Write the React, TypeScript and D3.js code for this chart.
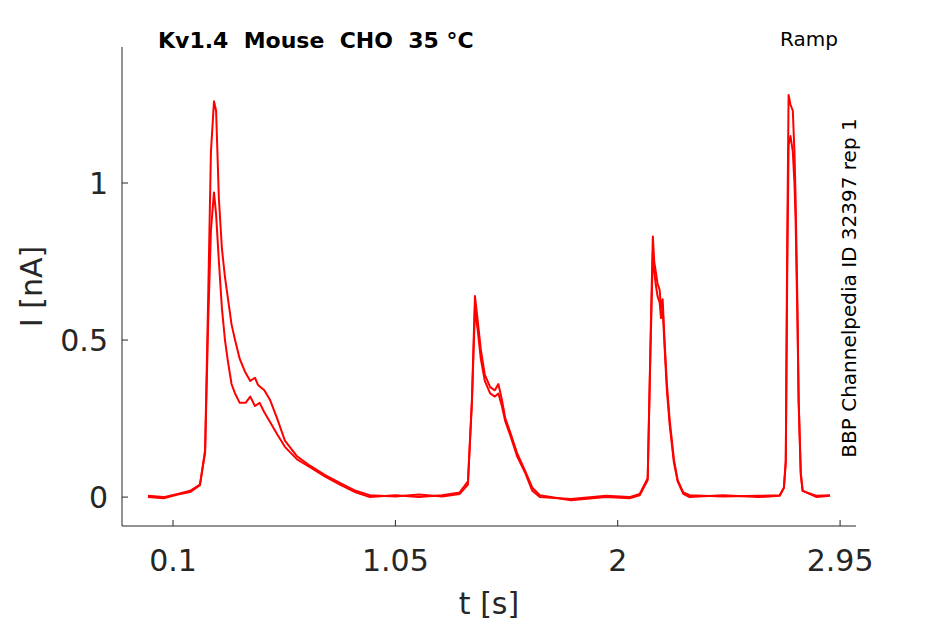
import React from 'react';
import * as d3 from 'd3';

const xTicks = [0.1, 1.05, 2, 2.95];
const yTicks = [0, 0.5, 1];

// trace 1 (higher first peak)
const traceA: [number, number][] = [
  [-0.007, 0], [0.06, -0.004], [0.12, 0.008], [0.173, 0.016], [0.215, 0.038], [0.237, 0.15], [0.25, 0.63],
  [0.262, 1.1], [0.275, 1.26], [0.284, 1.23], [0.296, 0.95], [0.309, 0.79], [0.322, 0.7], [0.335, 0.63],
  [0.35, 0.55], [0.365, 0.5], [0.385, 0.44], [0.407, 0.4], [0.43, 0.37], [0.45, 0.38], [0.463, 0.357],
  [0.49, 0.34], [0.514, 0.31], [0.545, 0.25], [0.578, 0.18], [0.63, 0.13], [0.685, 0.1], [0.75, 0.07],
  [0.813, 0.045], [0.88, 0.02], [0.941, 0.006], [1.05, 0.002], [1.15, 0.008], [1.25, 0.002], [1.325, 0.01],
  [1.36, 0.04], [1.377, 0.31], [1.39, 0.64], [1.402, 0.56], [1.415, 0.47], [1.432, 0.39], [1.455, 0.35],
  [1.475, 0.34], [1.49, 0.36], [1.505, 0.31], [1.52, 0.25], [1.539, 0.21], [1.57, 0.14], [1.603, 0.086],
  [1.635, 0.03], [1.667, 0.006], [1.8, -0.01], [1.95, 0.0], [2.05, -0.004], [2.094, 0.006], [2.128, 0.054],
  [2.141, 0.53], [2.15, 0.83], [2.156, 0.75], [2.162, 0.72], [2.17, 0.68], [2.179, 0.66], [2.185, 0.6],
  [2.192, 0.63], [2.2, 0.5], [2.21, 0.36], [2.222, 0.245], [2.24, 0.12], [2.256, 0.054], [2.28, 0.015],
  [2.307, 0.006], [2.45, 0.002], [2.6, 0.004], [2.692, 0.006], [2.71, 0.03], [2.718, 0.118], [2.724, 0.8],
  [2.73, 1.28], [2.738, 1.25], [2.748, 1.23], [2.755, 1.1], [2.76, 0.95], [2.768, 0.6], [2.773, 0.31],
  [2.782, 0.08], [2.79, 0.02], [2.85, 0.004], [2.907, 0.006],
];

// trace 2 (lower first peak)
const traceB: [number, number][] = [
  [-0.007, 0.004], [0.06, 0.0], [0.12, 0.01], [0.173, 0.02], [0.215, 0.04], [0.237, 0.14], [0.25, 0.55],
  [0.262, 0.85], [0.275, 0.97], [0.284, 0.9], [0.296, 0.75], [0.309, 0.6], [0.322, 0.5], [0.335, 0.43],
  [0.35, 0.36], [0.365, 0.33], [0.385, 0.3], [0.41, 0.3], [0.43, 0.32], [0.45, 0.29], [0.47, 0.3],
  [0.49, 0.27], [0.514, 0.24], [0.545, 0.2], [0.578, 0.16], [0.63, 0.12], [0.685, 0.095], [0.75, 0.065],
  [0.813, 0.04], [0.88, 0.015], [0.941, 0.0], [1.05, 0.006], [1.15, 0.0], [1.25, 0.006], [1.325, 0.015],
  [1.36, 0.05], [1.377, 0.3], [1.39, 0.6], [1.402, 0.53], [1.415, 0.44], [1.432, 0.37], [1.455, 0.33],
  [1.475, 0.32], [1.49, 0.33], [1.505, 0.29], [1.52, 0.24], [1.539, 0.2], [1.57, 0.13], [1.603, 0.08],
  [1.635, 0.02], [1.667, 0.0], [1.8, -0.006], [1.95, 0.004], [2.05, 0.0], [2.094, 0.01], [2.128, 0.06],
  [2.141, 0.5], [2.15, 0.78], [2.156, 0.72], [2.162, 0.68], [2.17, 0.64], [2.179, 0.62], [2.185, 0.57],
  [2.192, 0.6], [2.2, 0.48], [2.21, 0.34], [2.222, 0.23], [2.24, 0.11], [2.256, 0.05], [2.28, 0.01],
  [2.307, 0.0], [2.45, 0.006], [2.6, 0.0], [2.692, 0.004], [2.71, 0.03], [2.718, 0.11], [2.724, 0.7],
  [2.73, 1.12], [2.738, 1.15], [2.748, 1.1], [2.755, 1.0], [2.76, 0.88], [2.768, 0.55], [2.773, 0.3],
  [2.782, 0.07], [2.79, 0.02], [2.85, 0.0], [2.907, 0.004],
];

const W = 945, H = 624;
const L = 122, R = 856, T = 47, B = 526;

export default function App() {
  const x = d3.scaleLinear().domain([-0.118, 3.018]).range([L, R]);
  const y = d3.scaleLinear().domain([-0.092, 1.433]).range([B, T]);
  const line = d3.line<[number, number]>().x(d => x(d[0])).y(d => y(d[1]));
  const txt = '#262626';
  return (
    <svg width={W} height={H} style={{ position: 'absolute', left: 0, top: 0, fontFamily: 'DejaVu Sans' }}>
      <rect width={W} height={H} fill="#fff" />
      {[traceB, traceA].map((d, i) => (
        <path key={i} d={line(d) || ''} fill="none" stroke="#ff0000" strokeWidth={2} strokeLinejoin="round" />
      ))}
      <line x1={L} x2={L} y1={T} y2={B} stroke={txt} strokeWidth={1} />
      <line x1={L} x2={R} y1={B} y2={B} stroke={txt} strokeWidth={1} />
      {xTicks.map(t => (
        <g key={t}>
          <line x1={x(t)} x2={x(t)} y1={B} y2={B - 6} stroke={txt} />
          <text x={x(t)} y={B + 45} textAnchor="middle" fontSize={30} fill={txt}>{t}</text>
        </g>
      ))}
      {yTicks.map(t => (
        <g key={t}>
          <line x1={L} x2={L + 6} y1={y(t)} y2={y(t)} stroke={txt} />
          <text x={L - 14} y={y(t) + 11} textAnchor="end" fontSize={30} fill={txt}>{t}</text>
        </g>
      ))}
      <text x={(L + R) / 2} y={614} textAnchor="middle" fontSize={30} fill={txt}>t [s]</text>
      <text transform={`translate(42,${(T + B) / 2}) rotate(-90)`} textAnchor="middle" fontSize={30} fill={txt}>I [nA]</text>
      <text x={158} y={48} fontSize={22} fontWeight="bold" fill="#000" style={{ whiteSpace: 'pre' }}>Kv1.4  Mouse  CHO  35 °C</text>
      <text x={838} y={46} textAnchor="end" fontSize={20} fill="#000">Ramp</text>
      <text transform={`translate(856,288) rotate(-90)`} textAnchor="middle" fontSize={20} fill="#000">BBP Channelpedia ID 32397 rep 1</text>
    </svg>
  );
}
